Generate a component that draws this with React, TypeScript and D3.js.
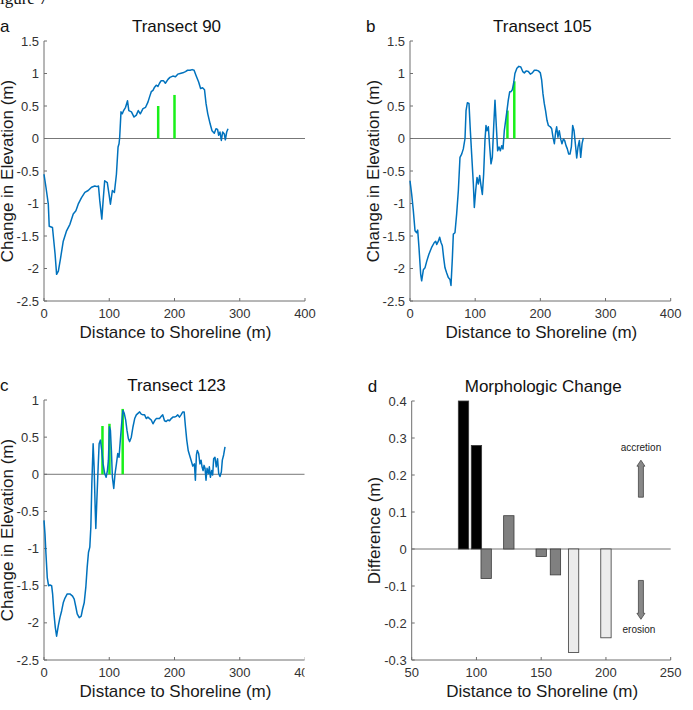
import * as d3 from "d3";

// Transect 90
const t90Dist = [0, 3, 6.6, 8, 13, 17, 19.3, 22, 25.4, 29.5, 34.6, 39.7, 44.8, 48.9, 52.4, 57.5, 62.6, 67.7, 72.8, 77.9, 81.4, 83.5, 85.5, 88.6, 90.6, 93, 97, 99.7, 101.8, 104.8, 107.9, 111, 113.5, 115, 116, 118, 120, 122, 125, 128, 130, 134, 138, 141.5, 144.5, 147.6, 151.7, 155.7, 159.3, 161.8, 164.4, 167, 169.5, 172, 174.6, 177, 179.6, 183, 186, 190, 193, 197.5, 201.5, 205, 208.6, 212.7, 216.8, 220, 224, 227, 230, 233, 237, 240, 243, 246, 248.3, 251, 254.5, 257.5, 261, 263.6, 266, 267.7, 269.7, 271.8, 273.8, 276.3, 277.9, 280, 282];
const t90Change = [-0.55, -0.75, -1.01, -1.35, -1.37, -1.78, -2.09, -2.04, -1.84, -1.58, -1.42, -1.32, -1.16, -1.11, -1.01, -0.91, -0.83, -0.8, -0.75, -0.73, -0.74, -0.73, -0.96, -1.24, -0.96, -0.65, -0.68, -0.86, -1.01, -0.8, -0.83, -0.55, -0.13, -0.08, 0.02, 0.41, 0.38, 0.43, 0.48, 0.58, 0.43, 0.41, 0.33, 0.36, 0.43, 0.38, 0.46, 0.48, 0.56, 0.64, 0.72, 0.74, 0.79, 0.82, 0.8, 0.85, 0.89, 0.89, 0.85, 0.91, 0.94, 0.96, 0.95, 0.99, 1.0, 1.01, 1.03, 1.05, 1.05, 1.06, 1.05, 0.97, 0.87, 0.77, 0.78, 0.75, 0.54, 0.38, 0.23, 0.12, 0.08, 0.15, 0.14, 0.05, 0.1, -0.03, 0.1, 0.07, -0.02, 0.1, 0.15];
const t90MarkDist = [175, 200];
const t90MarkHeight = [0.5, 0.67];

// Transect 105
const t105Dist = [0, 2.6, 5.1, 7.7, 10.2, 11.8, 13.8, 16.4, 17.9, 20.5, 23, 25.6, 29, 33, 37.3, 39.4, 41, 43.5, 45.5, 47.6, 49.6, 51.7, 53.7, 56.3, 58.8, 61.4, 62.9, 65, 66.5, 69, 71.6, 74.2, 76.7, 79.3, 81.8, 84.4, 86, 88, 90.5, 92.6, 94.6, 97.2, 98.7, 100.8, 102.8, 104.9, 106.9, 109, 111, 113, 115, 116.6, 118, 120.2, 122.3, 124.3, 126.3, 128.4, 130.4, 132.5, 134.5, 136.6, 138.6, 140.7, 142.7, 144.7, 146.8, 148.8, 150.8, 153, 155, 157, 159, 161, 164, 167, 170, 173, 175.4, 178.5, 181.6, 184.6, 187.7, 190.8, 193.9, 197, 200, 202, 204, 206, 208, 210.2, 212.3, 215.3, 217.4, 219.4, 221.5, 223.5, 225, 227, 229, 231.2, 233.2, 235.3, 237.3, 239.4, 241.4, 243.5, 245.5, 247.6, 249.6, 251.7, 253.7, 255.8, 257.8, 259.9, 261.9, 264, 266];
const t105Change = [-0.65, -0.86, -1.11, -1.42, -1.45, -1.41, -1.68, -2.09, -2.19, -2.02, -1.99, -1.89, -1.78, -1.68, -1.6, -1.58, -1.63, -1.58, -1.52, -1.6, -1.65, -1.84, -1.99, -2.07, -2.14, -2.17, -2.26, -1.84, -1.47, -1.45, -1.16, -0.8, -0.29, -0.24, -0.16, 0, 0.43, 0.55, 0.54, 0.12, -0.24, -0.7, -1.06, -0.8, -0.6, -0.7, -0.57, -0.73, -0.86, -0.55, -0.03, 0.2, 0.12, 0.18, -0.13, -0.39, -0.29, 0.18, 0.59, 0.18, -0.19, -0.13, -0.19, -0.11, -0.16, 0.12, 0.28, 0.43, 0.59, 0.72, 0.72, 0.75, 0.85, 1.0, 1.08, 1.11, 1.1, 1.03, 1.01, 1.04, 1.03, 0.99, 1.01, 1.05, 1.05, 1.04, 1.01, 0.9, 0.69, 0.54, 0.43, 0.28, 0.2, 0.18, 0.15, 0.02, -0.08, 0.1, 0.18, 0.02, 0.12, -0.01, -0.08, -0.01, -0.03, -0.11, -0.16, -0.24, -0.24, -0.13, 0.2, 0.12, -0.08, -0.3, -0.13, -0.03, -0.29, -0.08, 0.01];
const t105MarkDist = [149.5, 160];
const t105MarkHeight = [0.43, 0.88];

// Transect 123
const t123Dist = [0, 1.5, 3, 5, 7, 9.2, 11.7, 13.2, 15.3, 17.3, 19.3, 21.9, 24.4, 27, 29.5, 32, 35.6, 39.7, 43.8, 46.3, 48.9, 50.9, 54, 57, 59, 61.6, 64.1, 66.2, 68.2, 70.2, 71.8, 73.3, 75.3, 76.8, 78.4, 79.4, 81, 83, 84.5, 86.5, 88.5, 90.6, 93, 95.2, 97.2, 98.7, 100.3, 101.8, 103.3, 104.8, 106.9, 108.9, 111, 113, 115, 117, 119, 121, 123, 125.2, 127.2, 129.3, 131.3, 133.8, 136.4, 139, 141.5, 144, 146.6, 149, 151.7, 154.2, 156.7, 159.3, 161.8, 164.4, 167, 169.5, 172, 174.6, 177, 179.6, 182, 184.7, 187.3, 189.8, 192.4, 195, 197.5, 200, 202.5, 205, 207.6, 210, 212.7, 214.8, 216.8, 218.8, 221, 223, 225.4, 228, 230.5, 232, 233.6, 235, 237, 239, 240.7, 242.2, 243.8, 245.3, 246.8, 248.3, 249.9, 252, 253.4, 255, 257, 258.5, 260, 262, 264, 266, 267.7, 269.7, 271.8, 273.3, 275.3, 277.4];
const t123Change = [-0.62, -0.8, -1.07, -1.39, -1.5, -1.49, -1.5, -1.61, -1.88, -2.06, -2.18, -2.04, -1.93, -1.84, -1.73, -1.67, -1.61, -1.61, -1.64, -1.68, -1.79, -1.88, -1.93, -1.91, -1.82, -1.73, -1.52, -1.25, -1.05, -0.98, -0.71, -0.13, 0.41, 0.1, -0.44, -0.73, -0.35, 0.1, 0.41, 0.46, 0.32, 0.14, 0.01, -0.04, 0.05, 0.19, 0.64, 0.59, 0.32, -0.04, -0.19, 0.01, 0.14, 0.28, 0.23, 0.46, 0.68, 0.86, 0.82, 0.73, 0.59, 0.48, 0.44, 0.5, 0.64, 0.75, 0.8, 0.82, 0.84, 0.81, 0.8, 0.8, 0.75, 0.77, 0.75, 0.73, 0.68, 0.72, 0.75, 0.75, 0.75, 0.78, 0.8, 0.72, 0.71, 0.73, 0.72, 0.75, 0.77, 0.77, 0.78, 0.8, 0.77, 0.8, 0.84, 0.84, 0.64, 0.46, 0.32, 0.26, 0.19, 0.11, 0.14, -0.08, 0.26, 0.32, 0.28, 0.14, 0.19, 0.1, 0.05, 0.12, 0.08, -0.08, 0.08, 0.01, 0.1, -0.04, 0.05, -0.01, 0.21, 0.23, 0.1, 0.21, 0.01, -0.03, 0.03, 0.19, 0.26, 0.37];
const t123MarkDist = [89.6, 100.3, 120.6];
const t123MarkHeight = [0.65, 0.68, 0.88];

// Morphologic change
const morphDist = [90, 100, 107.5, 125, 150, 161, 175, 200];
const morphDiff = [0.4, 0.28, -0.08, 0.09, -0.02, -0.07, -0.28, -0.24];
const morphGroup = ["dark", "dark", "mid", "mid", "mid", "mid", "light", "light"];

const transTicksX = [0, 100, 200, 300, 400];
const ticksAB = [1.5, 1, 0.5, 0, -0.5, -1, -1.5, -2, -2.5];
const ticksC = [1, 0.5, 0, -0.5, -1, -1.5, -2, -2.5];
const morphTicksX = [50, 100, 150, 200, 250];
const morphTicksY = [0.4, 0.3, 0.2, 0.1, 0, -0.1, -0.2, -0.3];

const FONT = "'Liberation Sans', Arial, Helvetica, sans-serif";
const AXIS = "#6e6e6e";
const TICKTXT = "#333";
const BLUE = "#0072BD";
const GREEN = "#19f019";
const groupFill: Record<string, string> = { dark: "#000000", mid: "#808080", light: "#ececec" };

interface Box { left: number; right: number; top: number; bottom: number }

function Axes({ box, x, y, xTicks, yTicks, title, letter, yLabel, clipId }: {
  box: Box;
  x: d3.ScaleLinear<number, number>;
  y: d3.ScaleLinear<number, number>;
  xTicks: number[];
  yTicks: number[];
  title: string;
  letter: string;
  yLabel: string;
  clipId?: string;
}) {
  const midY = (box.top + box.bottom) / 2;
  return (
    <g fontFamily={FONT} clipPath={clipId ? `url(#${clipId})` : undefined}>
      {/* zero line */}
      <line x1={box.left} x2={box.right} y1={y(0)} y2={y(0)} stroke="#777" strokeWidth={1} />
      {/* axes */}
      <line x1={box.left} x2={box.right} y1={box.bottom} y2={box.bottom} stroke={AXIS} strokeWidth={1} />
      <line x1={box.left} x2={box.left} y1={box.top} y2={box.bottom} stroke={AXIS} strokeWidth={1} />
      {xTicks.map((t) => (
        <g key={"x" + t}>
          <line x1={x(t)} x2={x(t)} y1={box.bottom} y2={box.bottom - 3} stroke={AXIS} />
          <text x={x(t)} y={box.bottom + 17} fontSize={13} fill={TICKTXT} textAnchor="middle">{t}</text>
        </g>
      ))}
      {yTicks.map((t) => (
        <g key={"y" + t}>
          <line x1={box.left} x2={box.left + 3} y1={y(t)} y2={y(t)} stroke={AXIS} />
          <text x={box.left - 5} y={y(t) + 4.5} fontSize={13} fill={TICKTXT} textAnchor="end">{String(t)}</text>
        </g>
      ))}
      <text x={(box.left + box.right) / 2 + 1} y={box.bottom + 37} fontSize={17} fill="#1a1a1a" textAnchor="middle">
        Distance to Shoreline (m)
      </text>
      <text transform={`translate(${box.left - 31.5},${midY}) rotate(-90)`} fontSize={17} fill="#1a1a1a" textAnchor="middle">
        {yLabel}
      </text>
      <text x={(box.left + box.right) / 2 + 2} y={box.top - 9} fontSize={17} fill="#111" textAnchor="middle">{title}</text>
      <text x={box.left - 44 + (letter === "b" || letter === "d" ? 0 : 0)} y={box.top - 9} fontSize={17} fill="#111">{letter}</text>
    </g>
  );
}

function TransectPanel({ box, dist, change, markDist, markHeight, yDomain, yTicks, title, letter, clipId }: {
  box: Box; dist: number[]; change: number[]; markDist: number[]; markHeight: number[];
  yDomain: [number, number]; yTicks: number[]; title: string; letter: string; clipId?: string;
}) {
  const x = d3.scaleLinear().domain([0, 400]).range([box.left, box.right]);
  const y = d3.scaleLinear().domain(yDomain).range([box.bottom, box.top]);
  const pts = dist.map((d, i) => [d, change[i]] as [number, number]);
  const line = d3.line<[number, number]>().x((d) => x(d[0])).y((d) => y(d[1]));
  return (
    <g>
      <Axes box={box} x={x} y={y} xTicks={transTicksX} yTicks={yTicks} title={title} letter={letter}
        yLabel="Change in Elevation (m)" clipId={clipId} />
      {markDist.map((m, i) => (
        <line key={i} x1={x(m)} x2={x(m)} y1={y(0)} y2={y(markHeight[i])} stroke={GREEN} strokeWidth={2.5} />
      ))}
      <path d={line(pts) ?? ""} fill="none" stroke={BLUE} strokeWidth={1.5} strokeLinejoin="round" />
    </g>
  );
}

function MorphPanel({ box }: { box: Box }) {
  const x = d3.scaleLinear().domain([50, 250]).range([box.left, box.right]);
  const y = d3.scaleLinear().domain([-0.3, 0.4]).range([box.bottom, box.top]);
  const barW = x(58) - x(50);
  const arrowX = x(227);
  const arrow = (from: number, to: number) => {
    const dir = Math.sign(to - from);
    const y0 = y(from), y1 = y(to);
    const head = 5 * -dir; // pixel direction toward tip handled by y scale sign
    const shaftEnd = y1 + 6 * dir;
    return `M${arrowX - 2.5},${y0} L${arrowX - 2.5},${shaftEnd} L${arrowX - 4},${shaftEnd} L${arrowX},${y1} L${arrowX + 4},${shaftEnd} L${arrowX + 2.5},${shaftEnd} L${arrowX + 2.5},${y0} Z` + (head ? "" : "");
  };
  return (
    <g>
      <Axes box={box} x={x} y={y} xTicks={morphTicksX} yTicks={morphTicksY} title="Morphologic Change" letter="d"
        yLabel="Difference (m)" />
      {morphDist.map((d, i) => (
        <rect key={i} x={x(d) - barW / 2} width={barW}
          y={Math.min(y(0), y(morphDiff[i]))} height={Math.abs(y(0) - y(morphDiff[i]))}
          fill={groupFill[morphGroup[i]]} stroke="#3a3a3a" strokeWidth={0.8} />
      ))}
      <path d={arrow(0.14, 0.24)} fill="#888" stroke="#444" strokeWidth={0.8} />
      <path d={arrow(-0.085, -0.19)} fill="#888" stroke="#444" strokeWidth={0.8} />
      <text x={arrowX} y={y(0.265)} fontSize={10} fontFamily={FONT} textAnchor="middle" fill="#222">accretion</text>
      <text x={arrowX - 2} y={y(-0.227)} fontSize={10} fontFamily={FONT} textAnchor="middle" fill="#222">erosion</text>
    </g>
  );
}

export default function App() {
  const boxA: Box = { left: 44, right: 305, top: 41, bottom: 301 };
  const boxB: Box = { left: 410, right: 670.7, top: 41, bottom: 301 };
  const boxC: Box = { left: 44, right: 305, top: 400, bottom: 660 };
  const boxD: Box = { left: 411.7, right: 670.7, top: 401, bottom: 660 };
  return (
    <svg width={693} height={710} style={{ position: "absolute", left: 0, top: 0, background: "#fff" }}>
      <defs>
        <clipPath id="clipC">
          <rect x={-10} y={330} width={314.5} height={380} />
        </clipPath>
      </defs>
      <rect width={693} height={710} fill="#fff" />
      <text x={-9.5} y={4} fontSize={17} fontFamily="'Liberation Serif', 'Times New Roman', serif" fill="#111">Figure 7</text>
      <TransectPanel box={boxA} dist={t90Dist} change={t90Change} markDist={t90MarkDist} markHeight={t90MarkHeight}
        yDomain={[-2.5, 1.5]} yTicks={ticksAB} title="Transect 90" letter="a" />
      <TransectPanel box={boxB} dist={t105Dist} change={t105Change} markDist={t105MarkDist} markHeight={t105MarkHeight}
        yDomain={[-2.5, 1.5]} yTicks={ticksAB} title="Transect 105" letter="b" />
      <TransectPanel box={boxC} dist={t123Dist} change={t123Change} markDist={t123MarkDist} markHeight={t123MarkHeight}
        yDomain={[-2.5, 1]} yTicks={ticksC} title="Transect 123" letter="c" clipId="clipC" />
      <MorphPanel box={boxD} />
    </svg>
  );
}
